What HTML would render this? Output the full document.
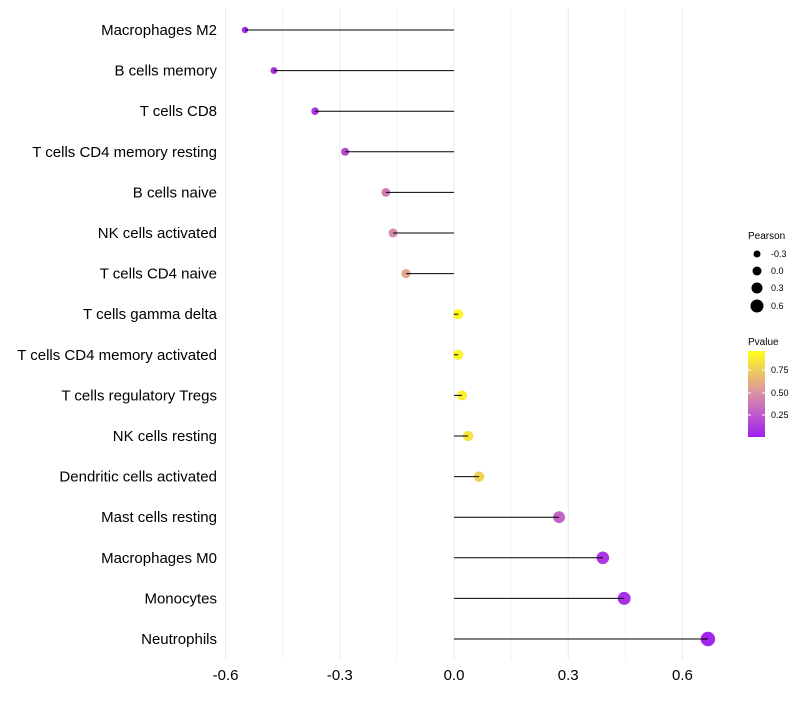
<!DOCTYPE html>
<html><head><meta charset="utf-8"><style>
body{margin:0;background:#fff;font-family:"Liberation Sans",sans-serif}
</style></head><body>
<svg id="c" width="800" height="700" xmlns="http://www.w3.org/2000/svg">
<defs><linearGradient id="pg" x1="0" y1="1" x2="0" y2="0">
<stop offset="0" stop-color="#a020f0"/><stop offset="0.5" stop-color="#d98fa8"/><stop offset="1" stop-color="#ffff1a"/>
</linearGradient></defs>
<g id="grid"></g><g id="marks"></g><g id="stems"></g><g id="labels"></g>
<g font-size="9" fill="#000">
<text x="748" y="239" font-size="10">Pearson</text>
<circle cx="757" cy="254" r="3.5"/><text x="771" y="257">-0.3</text>
<circle cx="757" cy="271" r="4.5"/><text x="771" y="274">0.0</text>
<circle cx="757" cy="288" r="5.5"/><text x="771" y="291">0.3</text>
<circle cx="757" cy="306" r="6.5"/><text x="771" y="309">0.6</text>
</g>
<g font-size="9" fill="#000">
<text x="748" y="345" font-size="10">Pvalue</text>
<rect x="748" y="351" width="17" height="86" fill="url(#pg)"/>
<line x1="748" x2="751" y1="370" y2="370" stroke="#fff"/><line x1="762" x2="765" y1="370" y2="370" stroke="#fff"/>
<line x1="748" x2="751" y1="393" y2="393" stroke="#fff"/><line x1="762" x2="765" y1="393" y2="393" stroke="#fff"/>
<line x1="748" x2="751" y1="415" y2="415" stroke="#fff"/><line x1="762" x2="765" y1="415" y2="415" stroke="#fff"/>
<text x="771" y="373">0.75</text><text x="771" y="396">0.50</text><text x="771" y="418">0.25</text>
</g>
</svg>
<script>
const categories=["Macrophages M2","B cells memory","T cells CD8","T cells CD4 memory resting","B cells naive","NK cells activated","T cells CD4 naive","T cells gamma delta","T cells CD4 memory activated","T cells regulatory  Tregs ","NK cells resting","Dendritic cells activated","Mast cells resting","Macrophages M0","Monocytes","Neutrophils"];
const pearson=[-0.549,-0.473,-0.365,-0.286,-0.179,-0.160,-0.126,0.011,0.011,0.021,0.037,0.066,0.276,0.391,0.447,0.667];
const pvalue=[0.03,0.05,0.1,0.2,0.42,0.47,0.6,0.97,0.96,0.93,0.88,0.8,0.3,0.1,0.07,0.02];
const ticks=[-0.6,-0.3,0.0,0.3,0.6];
const NS="http://www.w3.org/2000/svg";
const xs=v=>454+v*380.7, ys=i=>30+i*40.6;
function mk(t,a,p){const e=document.createElementNS(NS,t);for(const k in a)e.setAttribute(k,a[k]);p.appendChild(e);return e;}
function lerp(a,b,t){return a.map((x,i)=>Math.round(x+(b[i]-x)*t));}
function col(p){const s=[[160,32,240],[217,143,168],[255,255,26]];const c=p<0.5?lerp(s[0],s[1],p/0.5):lerp(s[1],s[2],(p-0.5)/0.5);return `rgb(${c})`;}
const g=document.getElementById('grid'),m=document.getElementById('marks'),st=document.getElementById('stems'),lb=document.getElementById('labels');
for(let v=-0.6;v<=0.66;v+=0.15){const l=mk('line',{x1:xs(v),x2:xs(v),y1:8,y2:660,stroke:'#ebebeb','stroke-width':Math.abs(Math.round(v/0.3)*0.3-v)<1e-6?1:0.6},g);

}
ticks.forEach(t=>{const e=mk('text',{x:xs(t),y:680,'text-anchor':'middle','font-size':15,fill:'#000'},lb);e.textContent=t.toFixed(1);

});
categories.forEach((c,i)=>{const y=ys(i);
const t=mk('text',{x:217,y:y+5,'text-anchor':'end','font-size':15,fill:'#000'},lb);t.textContent=c;


const r=Math.max(1.8,5+3.3*pearson[i]);
const d=mk('circle',{cx:xs(pearson[i]),cy:y,r:r,fill:col(pvalue[i])},m);


const l=mk('line',{x1:xs(0),x2:xs(pearson[i]),y1:y,y2:y,stroke:'#000','stroke-width':1},st);

});
</script>
</body></html>
